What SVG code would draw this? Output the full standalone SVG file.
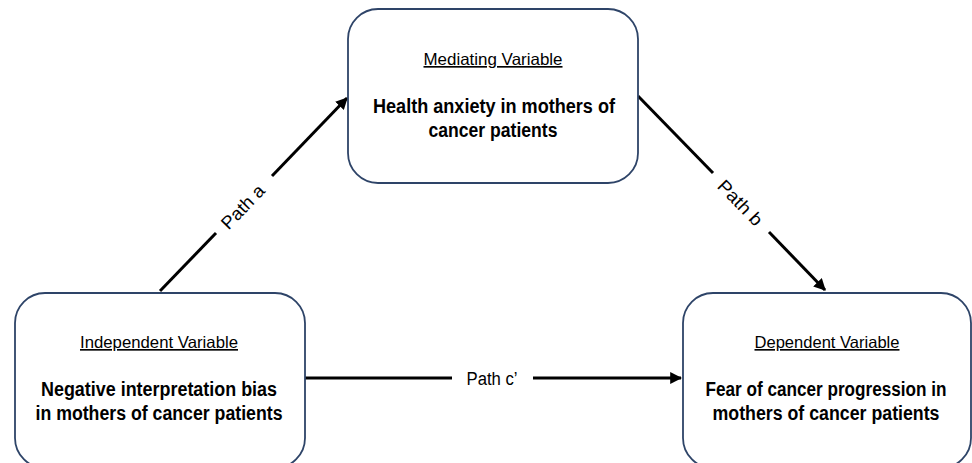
<svg xmlns="http://www.w3.org/2000/svg" width="972" height="463" viewBox="0 0 972 463">
<style>
.box{fill:#fff;stroke:#2E4468;stroke-width:1.8}
.hd{font-family:"Liberation Sans",Arial,sans-serif;font-size:16.5px;fill:#000;text-anchor:middle;text-decoration:underline}
.bd{font-family:"Liberation Sans",Arial,sans-serif;font-size:20px;font-weight:bold;fill:#000;text-anchor:middle}
.lb{font-family:"Liberation Sans",Arial,sans-serif;font-size:18px;fill:#000;text-anchor:middle}
.ln{stroke:#000;stroke-width:3;fill:none}
</style>
<defs>
<marker id="ah" viewBox="0 0 10 10" refX="9" refY="5" markerWidth="4" markerHeight="4" orient="auto" markerUnits="strokeWidth">
<path d="M0,0 L10,5 L0,10 z" fill="#000"/>
</marker>
</defs>
<rect width="972" height="463" fill="#fff"/>
<g id="connectors">
<line class="ln" x1="160" y1="291" x2="216" y2="233"/>
<line class="ln" x1="272" y1="176" x2="347" y2="98" marker-end="url(#ah)"/>
<text class="lb" transform="translate(243,207) rotate(-46)" y="6" textLength="54" lengthAdjust="spacingAndGlyphs">Path a</text>
<line class="ln" x1="638" y1="96" x2="713" y2="173"/>
<line class="ln" x1="769" y1="232" x2="825" y2="290" marker-end="url(#ah)"/>
<text class="lb" transform="translate(740,203) rotate(46)" y="6" textLength="56" lengthAdjust="spacingAndGlyphs">Path b</text>
<line class="ln" x1="305" y1="378" x2="452" y2="378"/>
<line class="ln" x1="533" y1="378" x2="681" y2="378" marker-end="url(#ah)"/>
<text class="lb" x="492" y="385" textLength="51" lengthAdjust="spacingAndGlyphs">Path c’</text>
</g>
<g id="mediator">
<rect class="box" x="348" y="9" width="290" height="174" rx="30"/>
<text class="hd" x="493" y="65" textLength="139" lengthAdjust="spacingAndGlyphs">Mediating Variable</text>
<text class="bd" x="494" y="113" textLength="242" lengthAdjust="spacingAndGlyphs">Health anxiety in mothers of</text>
<text class="bd" x="493" y="137" textLength="129" lengthAdjust="spacingAndGlyphs">cancer patients</text>
</g>
<g id="independent">
<rect class="box" x="15" y="293" width="290" height="175" rx="30"/>
<text class="hd" x="159" y="348" textLength="158" lengthAdjust="spacingAndGlyphs">Independent Variable</text>
<text class="bd" x="159" y="396" textLength="236" lengthAdjust="spacingAndGlyphs">Negative interpretation bias</text>
<text class="bd" x="159" y="420" textLength="247" lengthAdjust="spacingAndGlyphs">in mothers of cancer patients</text>
</g>
<g id="dependent">
<rect class="box" x="683" y="293" width="288" height="175" rx="30"/>
<text class="hd" x="827" y="348" textLength="145" lengthAdjust="spacingAndGlyphs">Dependent Variable</text>
<text class="bd" x="826" y="396" textLength="241" lengthAdjust="spacingAndGlyphs">Fear of cancer progression in</text>
<text class="bd" x="826" y="420" textLength="227" lengthAdjust="spacingAndGlyphs">mothers of cancer patients</text>
</g>
</svg>
